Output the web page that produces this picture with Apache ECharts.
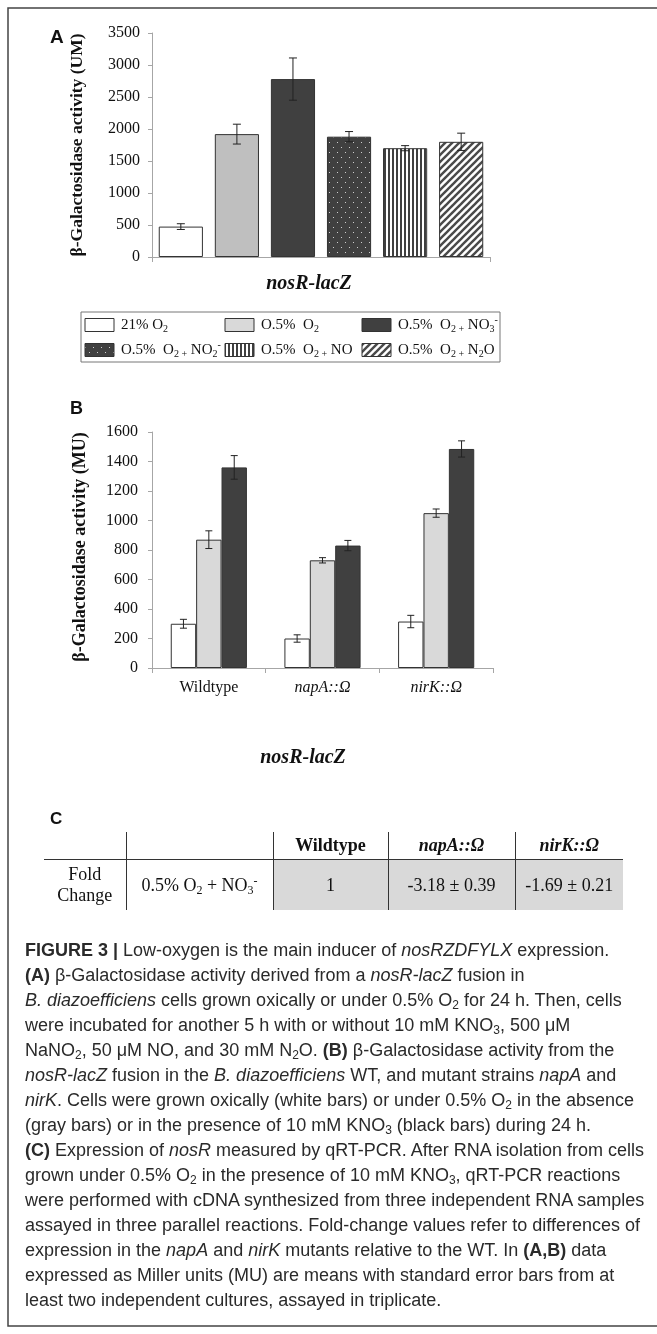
<!DOCTYPE html>
<html><head><meta charset="utf-8">
<script src="https://cdn.jsdelivr.net/npm/echarts@6/dist/echarts.min.js"></script>
<style>
html,body{margin:0;padding:0;background:#fff;}
#wrap{position:relative;width:657px;height:1334px;overflow:hidden;background:#fff;}
#chart{position:absolute;left:0;top:0;width:657px;height:1334px;}
.cap{position:absolute;left:25px;height:24px;line-height:24px;font-family:'Liberation Sans',Arial,sans-serif;font-size:18px;color:#2a2a2a;white-space:nowrap;}
.cap sub{font-size:12px;vertical-align:-3px;line-height:0;}
#tbl{position:absolute;left:44px;top:832px;border-collapse:collapse;table-layout:fixed;font-family:'Liberation Serif','Times New Roman',serif;font-size:18px;color:#111;}
#tbl td{padding:0;text-align:center;vertical-align:middle;white-space:nowrap;}
#tbl tr.h td{height:27px;border-bottom:1.5px solid #333;}
#tbl tr.d td{height:50px;line-height:21px;}
#tbl td.vl{border-left:1.5px solid #333;}
#tbl td.g{background:#d9d9d9;}
#tbl sub,#tbl sup{font-size:12px;line-height:0;}
#tbl sub{vertical-align:-3px;}
#tbl sup{vertical-align:6px;}
</style></head>
<body><div id="wrap">
<div id="chart"></div>
<table id="tbl">
<colgroup><col style="width:82px"><col style="width:147px"><col style="width:115px"><col style="width:127px"><col style="width:108px"></colgroup>
<tr class="h"><td></td><td class="vl"></td><td class="vl"><b>Wildtype</b></td><td class="vl"><b><i>napA::Ω</i></b></td><td class="vl"><b><i>nirK::Ω</i></b></td></tr>
<tr class="d"><td>Fold<br>Change</td><td class="vl">0.5% O<sub>2</sub> + NO<sub>3</sub><sup>-</sup></td><td class="vl g">1</td><td class="vl g">-3.18 ± 0.39</td><td class="vl g">-1.69 ± 0.21</td></tr>
</table>
<div id="caption"></div>
</div>
<script>
// ---------- data ----------
const categoryA = ['nosR-lacZ'];
const legendNames = ['21% O2', 'O.5% O2', 'O.5% O2 + NO3-', 'O.5% O2 + NO2-', 'O.5% O2 + NO', 'O.5% O2 + N2O'];
const legendRich = ['21% O{s|2}', 'O.5%  O{s|2}', 'O.5%  O{s|2 +} NO{s|3}{p|-}', 'O.5%  O{s|2 +} NO{s|2}{p|-}', 'O.5%  O{s|2 +} NO', 'O.5%  O{s|2 +} N{s|2}O'];
const valuesA = [475, 1920, 2780, 1880, 1700, 1800];
const errorsA = [45, 155, 330, 80, 40, 135];

const categoriesB = ['Wildtype', 'napA::Ω', 'nirK::Ω'];
const seriesNamesB = ['21% O2', 'O.5% O2', 'O.5% O2 + NO3-'];
const whiteB = [300, 200, 315];
const grayB = [870, 730, 1050];
const blackB = [1360, 830, 1485];
const errWhiteB = [30, 25, 42];
const errGrayB = [60, 18, 28];
const errBlackB = [80, 35, 55];

const captionLines = [
 '<b>FIGURE 3 |</b> Low-oxygen is the main inducer of <i>nosRZDFYLX</i> expression.',
 '<b>(A)</b> β-Galactosidase activity derived from a <i>nosR-lacZ</i> fusion in',
 '<i>B. diazoefficiens</i> cells grown oxically or under 0.5% O<sub>2</sub> for 24 h. Then, cells',
 'were incubated for another 5 h with or without 10 mM KNO<sub>3</sub>, 500 μM',
 'NaNO<sub>2</sub>, 50 μM NO, and 30 mM N<sub>2</sub>O. <b>(B)</b> β-Galactosidase activity from the',
 '<i>nosR-lacZ</i> fusion in the <i>B. diazoefficiens</i> WT, and mutant strains <i>napA</i> and',
 '<i>nirK</i>. Cells were grown oxically (white bars) or under 0.5% O<sub>2</sub> in the absence',
 '(gray bars) or in the presence of 10 mM KNO<sub>3</sub> (black bars) during 24 h.',
 '<b>(C)</b> Expression of <i>nosR</i> measured by qRT-PCR. After RNA isolation from cells',
 'grown under 0.5% O<sub>2</sub> in the presence of 10 mM KNO<sub>3</sub>, qRT-PCR reactions',
 'were performed with cDNA synthesized from three independent RNA samples',
 'assayed in three parallel reactions. Fold-change values refer to differences of',
 'expression in the <i>napA</i> and <i>nirK</i> mutants relative to the WT. In <b>(A,B)</b> data',
 'expressed as Miller units (MU) are means with standard error bars from at',
 'least two independent cultures, assayed in triplicate.'
];

// ---------- caption ----------
const capEl = document.getElementById('caption');
captionLines.forEach((l, i) => {
  const d = document.createElement('div');
  d.className = 'cap';
  d.style.top = (938 + i * 25) + 'px';
  d.innerHTML = l;
  capEl.appendChild(d);
});

// ---------- patterns ----------
function pat(type) {
  const c = document.createElement('canvas');
  let g;
  if (type === 'dots') {
    c.width = 8; c.height = 10; g = c.getContext('2d');
    g.fillStyle = '#404040'; g.fillRect(0, 0, 8, 10);
    g.fillStyle = '#cfcfcf'; g.fillRect(1, 2, 1, 1); g.fillRect(5, 7, 1, 1);
  } else if (type === 'vert') {
    c.width = 4; c.height = 4; g = c.getContext('2d');
    g.fillStyle = '#ffffff'; g.fillRect(0, 0, 4, 4);
    g.fillStyle = '#404040'; g.fillRect(0, 0, 2, 4);
  } else {
    const s = 7; c.width = s; c.height = s; g = c.getContext('2d');
    g.fillStyle = '#ffffff'; g.fillRect(0, 0, s, s);
    g.strokeStyle = '#4a4a4a'; g.lineWidth = 2.4;
    for (let k = -1; k <= 1; k++) {
      g.beginPath(); g.moveTo(-1, s + 1 + k * s); g.lineTo(s + 1, -1 + k * s); g.stroke();
    }
  }
  return { image: c, repeat: 'repeat' };
}
const fillsA = ['#ffffff', '#bfbfbf', '#404040', pat('dots'), pat('vert'), pat('diag')];
const fillsLegend = ['#ffffff', '#d9d9d9', '#404040', pat('dots'), pat('vert'), pat('diag')];
const fillsB = ['#ffffff', '#d9d9d9', '#404040'];

// ---------- helpers ----------
const serif = "'Liberation Serif','Times New Roman',serif";
const axisColor = '#a6a6a6';
function errRender(n, gap, catGap, capHalf) {
  return function (params, api) {
    const cat = api.value(0), v = api.value(1), e = api.value(2), k = api.value(3);
    const bandW = api.size([1, 0])[0];
    const bw = bandW * (1 - catGap) / (n + (n - 1) * gap);
    const x = api.coord([cat, 0])[0] + (k - (n - 1) / 2) * bw * (1 + gap);
    const y1 = api.coord([cat, v + e])[1], y2 = api.coord([cat, v - e])[1];
    const st = { stroke: '#222', lineWidth: 1 };
    return { type: 'group', children: [
      { type: 'line', shape: { x1: x, y1: y1, x2: x, y2: y2 }, style: st },
      { type: 'line', shape: { x1: x - capHalf, y1: y1, x2: x + capHalf, y2: y1 }, style: st },
      { type: 'line', shape: { x1: x - capHalf, y1: y2, x2: x + capHalf, y2: y2 }, style: st }
    ] };
  };
}
function valueAxis(gi, max, interval, margin) {
  return {
    gridIndex: gi, type: 'value', min: 0, max: max, interval: interval,
    axisLine: { show: true, lineStyle: { color: axisColor, width: 1 } },
    axisTick: { show: true, inside: false, length: 4, lineStyle: { color: axisColor } },
    axisLabel: { show: true, margin: margin, fontFamily: serif, fontSize: 16, color: '#111', formatter: v => String(v) },
    splitLine: { show: false }
  };
}

// ---------- series ----------
const series = [];
valuesA.forEach((v, i) => {
  series.push({
    type: 'bar', name: legendNames[i], xAxisIndex: 0, yAxisIndex: 0, data: [v],
    barGap: '27%', barCategoryGap: '4%',
    itemStyle: { color: fillsA[i], borderColor: '#333', borderWidth: 1 },
    emphasis: { disabled: true }, silent: true
  });
});
series.push({
  type: 'custom', xAxisIndex: 0, yAxisIndex: 0, z: 10, silent: true,
  data: valuesA.map((v, i) => [0, v, errorsA[i], i]),
  encode: { x: 0, y: 1 },
  renderItem: errRender(6, 0.27, 0.04, 4)
});
const dataB = [whiteB, grayB, blackB];
const errB = [errWhiteB, errGrayB, errBlackB];
dataB.forEach((arr, k) => {
  series.push({
    type: 'bar', name: seriesNamesB[k], xAxisIndex: 1, yAxisIndex: 1, data: arr,
    barGap: '0%', barCategoryGap: '33%',
    itemStyle: { color: fillsB[k], borderColor: '#333', borderWidth: 1 },
    emphasis: { disabled: true }, silent: true
  });
});
const errDataB = [];
dataB.forEach((arr, k) => arr.forEach((v, c) => errDataB.push([c, v, errB[k][c], k])));
series.push({
  type: 'custom', xAxisIndex: 1, yAxisIndex: 1, z: 10, silent: true,
  data: errDataB, encode: { x: 0, y: 1 },
  renderItem: errRender(3, 0, 0.33, 3.5)
});

// ---------- graphic ----------
const graphic = [
  { type: 'rect', shape: { x: 8, y: 8, width: 700, height: 1318 }, style: { fill: 'none', stroke: '#444', lineWidth: 1.5 }, silent: true },
  { type: 'text', x: 50, y: 28, style: { text: 'A', font: "bold 19px 'Liberation Sans', Arial, sans-serif", fill: '#111', align: 'left', verticalAlign: 'top' } },
  { type: 'text', x: 70, y: 400, style: { text: 'B', font: "bold 18px 'Liberation Sans', Arial, sans-serif", fill: '#111', align: 'left', verticalAlign: 'top' } },
  { type: 'text', x: 50, y: 811, style: { text: 'C', font: "bold 17px 'Liberation Sans', Arial, sans-serif", fill: '#111', align: 'left', verticalAlign: 'top' } },
  { type: 'text', x: 77, y: 145, rotation: Math.PI / 2, style: { text: 'β-Galactosidase activity (UM)', font: "bold 17.5px 'Liberation Serif', serif", fill: '#111', align: 'center', verticalAlign: 'middle' } },
  { type: 'text', x: 80, y: 547, rotation: Math.PI / 2, style: { text: 'β-Galactosidase activity (MU)', font: "bold 18px 'Liberation Serif', serif", fill: '#111', align: 'center', verticalAlign: 'middle' } },
  { type: 'text', x: 309, y: 284, style: { text: 'nosR-lacZ', font: "italic bold 20px 'Liberation Serif', serif", fill: '#111', align: 'center', verticalAlign: 'middle' } },
  { type: 'text', x: 303, y: 758, style: { text: 'nosR-lacZ', font: "italic bold 20px 'Liberation Serif', serif", fill: '#111', align: 'center', verticalAlign: 'middle' } },
  { type: 'rect', shape: { x: 81, y: 312, width: 419, height: 50 }, style: { fill: 'none', stroke: '#777', lineWidth: 1 }, silent: true }
];
const iconX = [85, 225, 362];
const rowY = [325, 350];
legendNames.forEach((n, i) => {
  const col = i % 3, row = Math.floor(i / 3);
  graphic.push({ type: 'rect', shape: { x: iconX[col], y: rowY[row] - 6.5, width: 29, height: 13 }, style: { fill: fillsLegend[i], stroke: '#333', lineWidth: 1 } });
  graphic.push({ type: 'text', x: iconX[col] + 36, y: rowY[row], style: {
    text: legendRich[i], fontFamily: serif, fontSize: 15, fill: '#111', align: 'left', verticalAlign: 'middle', lineHeight: 19,
    rich: {
      s: { fontFamily: serif, fontSize: 10, fill: '#111', verticalAlign: 'bottom', lineHeight: 11 },
      p: { fontFamily: serif, fontSize: 10, fill: '#111', verticalAlign: 'top', lineHeight: 11 }
    } } });
});

const option = {
  animation: false,
  backgroundColor: 'transparent',
  grid: [
    { left: 152, top: 33, width: 338, height: 224, outerBoundsMode: 'none', containLabel: false },
    { left: 152, top: 432, width: 341, height: 236, outerBoundsMode: 'none', containLabel: false }
  ],
  xAxis: [
    { gridIndex: 0, type: 'category', data: categoryA,
      axisLine: { show: true, lineStyle: { color: axisColor, width: 1 } },
      axisTick: { show: true, length: 5, lineStyle: { color: axisColor } },
      axisLabel: { show: false }, splitLine: { show: false } },
    { gridIndex: 1, type: 'category', data: categoriesB,
      axisLine: { show: true, lineStyle: { color: axisColor, width: 1 } },
      axisTick: { show: true, length: 5, lineStyle: { color: axisColor } },
      axisLabel: { show: true, margin: 12, fontFamily: serif, fontSize: 16, color: '#111',
        formatter: (v, i) => i === 0 ? v : '{it|' + v + '}',
        rich: { it: { fontFamily: serif, fontSize: 16, fontStyle: 'italic', color: '#111' } } },
      splitLine: { show: false } }
  ],
  yAxis: [valueAxis(0, 3500, 500, 12), valueAxis(1, 1600, 200, 14)],
  series: series,
  graphic: graphic
};
const chart = echarts.init(document.getElementById('chart'), null, { renderer: 'canvas' });
chart.setOption(option);
</script>
</body></html>
